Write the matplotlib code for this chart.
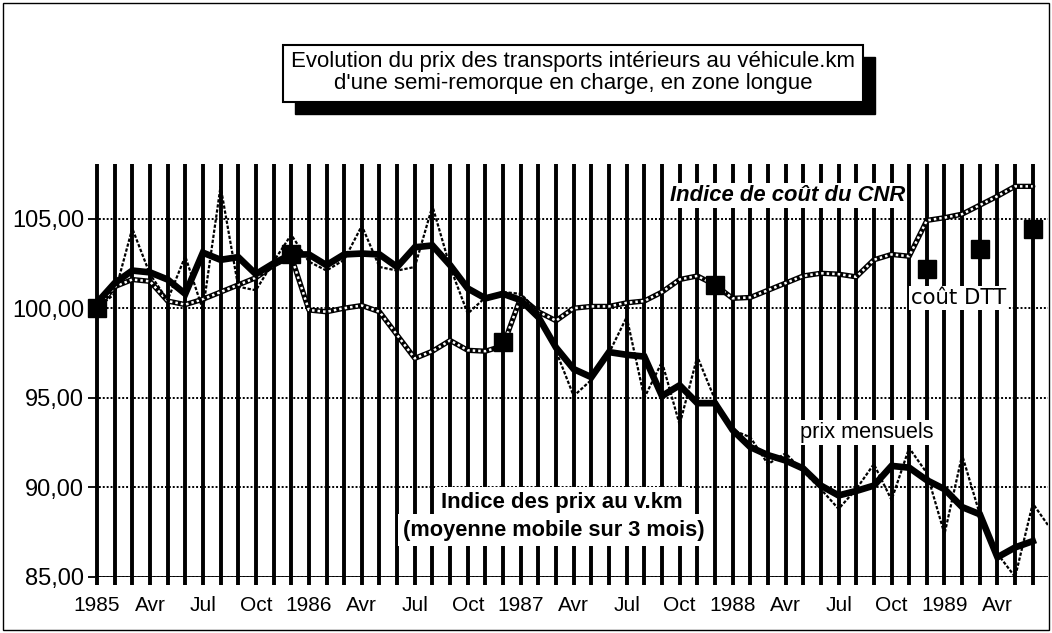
import matplotlib
matplotlib.use("Agg")
import matplotlib.pyplot as plt
from matplotlib.patches import Rectangle

# month index 0 = janvier 1985
tick_labels = ['1985', 'Avr', 'Jul', 'Oct', '1986', 'Avr', 'Jul', 'Oct',
               '1987', 'Avr', 'Jul', 'Oct', '1988', 'Avr', 'Jul', 'Oct',
               '1989', 'Avr']

# indice des prix au v.km, moyenne mobile sur 3 mois
prix_mm = [100.3, 101.4, 102.1, 102.0, 101.6, 100.8, 103.1, 102.7, 102.85, 101.9, 102.5, 103.0,
           103.0, 102.4, 103.0, 103.05, 103.0, 102.3, 103.4, 103.5, 102.4, 101.1, 100.55, 100.8,
           100.45, 99.5, 97.8, 96.6, 96.15, 97.55, 97.4, 97.3, 95.1, 95.7, 94.7, 94.7,
           93.2, 92.25, 91.8, 91.5, 91.05, 90.1, 89.55, 89.8, 90.1, 91.2, 91.1, 90.4,
           89.9, 88.9, 88.5, 86.1, 86.65, 87.0]

# prix mensuels
prix_mensuels = [100.0, 100.8, 104.45, 101.9, 100.45, 102.9, 99.9, 106.8, 101.2, 101.0, 102.6, 104.1,
                 102.6, 102.1, 102.7, 104.6, 102.3, 102.1, 102.3, 105.7, 102.3, 99.7, 100.6, 100.9,
                 100.8, 99.8, 97.6, 95.1, 96.0, 97.5, 99.5, 95.0, 97.0, 93.5, 97.3, 94.9,
                 93.2, 92.8, 91.3, 91.9, 90.9, 89.9, 88.8, 89.9, 91.3, 89.3, 92.2, 90.8,
                 87.4, 91.8, 88.5, 86.3, 85.0, 89.1, 87.7]

# indice de cout du CNR
cnr = [100.0, 101.2, 101.6, 101.5, 100.4, 100.2, 100.5, 100.9, 101.3, 101.7, 102.4, 102.9,
       99.9, 99.8, 100.0, 100.15, 99.8, 98.5, 97.2, 97.6, 98.2, 97.65, 97.6, 97.9,
       100.6, 99.8, 99.3, 100.0, 100.1, 100.1, 100.3, 100.4, 100.9, 101.6, 101.8, 101.3,
       100.55, 100.6, 101.0, 101.4, 101.8, 101.95, 101.9, 101.75, 102.7, 103.0, 102.9, 104.9,
       105.05, 105.25, 105.75, 106.25, 106.8, 106.8]

# cout DTT
dtt_mois = [0, 11, 23, 35, 47, 50, 53]
dtt = [100.0, 103.0, 98.1, 101.3, 102.2, 103.3, 104.4]

FONT = 'Liberation Sans'

fig = plt.figure(figsize=(10.52, 6.33), dpi=100)
ax = fig.add_axes([0.0905, 0.0885, 0.9055, 0.6525])

n = len(prix_mm)
ax.set_xlim(-0.1, 53.85)
ax.set_ylim(85, 108.05)

# traits verticaux a chaque mois
ax.set_xticks(range(n))
lbls = [''] * n
for i, t in enumerate(tick_labels):
    lbls[i * 3] = t
ax.set_xticklabels(lbls, fontsize=15, family=FONT)
ax.tick_params(axis='x', length=6, width=2.8, color='black', pad=8)
ax.xaxis.grid(True, color='black', linewidth=2.8, zorder=1)

ax.set_yticks([85, 90, 95, 100, 105])
ax.set_yticklabels(['85,00', '90,00', '95,00', '100,00', '105,00'], fontsize=17, family=FONT)
ax.tick_params(axis='y', length=5, width=1.3, pad=3)
ax.yaxis.grid(True, color='black', linewidth=1.4, linestyle=(0, (1, 1)), zorder=1)
ax.set_axisbelow(True)
for s in ax.spines.values():
    s.set_visible(False)
ax.axhline(85, color='black', lw=2, zorder=2)

x_m = list(range(len(prix_mensuels)))
x = list(range(n))

# CNR : chainette
ax.plot(x, cnr, color='black', lw=3.8, zorder=4, solid_capstyle='round')
ax.plot(x, cnr, color='white', lw=1.8, linestyle=(0, (1, 1.2)), zorder=4.1)

# prix mensuels
ax.plot(x_m, prix_mensuels, color='black', lw=1.6, linestyle=(0, (1.5, 0.8)), zorder=4.5)

# moyenne mobile
ax.plot(x, prix_mm, color='black', lw=4.8, zorder=5, solid_joinstyle='miter')

ax.plot(dtt_mois, dtt, 's', color='black', ms=13, zorder=6, clip_on=False)

box = dict(facecolor='white', edgecolor='none', pad=1.5)
ax.text(39.1, 106.3, 'Indice de coût du CNR', ha='center', va='center', fontsize=15.8,
        family=FONT, weight='bold', style='italic', bbox=box, zorder=3)
ax.text(48.8, 100.56, 'coût DTT', ha='center', va='center', fontsize=15.3,
        family='DejaVu Sans', bbox=box, zorder=3)
ax.text(43.6, 93.05, 'prix mensuels', ha='center', va='center', fontsize=15.7,
        family=FONT, bbox=box, zorder=3)
ax.text(26.3, 89.15, 'Indice des prix au v.km', ha='center', va='center', fontsize=15.9,
        family=FONT, weight='bold', bbox=dict(facecolor='white', edgecolor='none', pad=4), zorder=3)
ax.text(25.9, 87.6, '(moyenne mobile sur 3 mois)', ha='center', va='center', fontsize=15.7,
        family=FONT, weight='bold', bbox=dict(facecolor='white', edgecolor='none', pad=4), zorder=3)

# encadre du titre avec ombre
W, H = 1052.0, 633.0
fig.add_artist(Rectangle((295 / W, (H - 114) / H), 580 / W, 57 / H,
                         facecolor='black', edgecolor='black', transform=fig.transFigure))
fig.add_artist(Rectangle((283 / W, (H - 102) / H), 580 / W, 57 / H,
                         facecolor='white', edgecolor='black', lw=1.5, transform=fig.transFigure))
fig.text(573 / W, (H - 62) / H, 'Evolution du prix des transports intérieurs au véhicule.km',
         ha='center', va='center', fontsize=16, family=FONT)
fig.text(573 / W, (H - 84) / H, "d'une semi-remorque en charge, en zone longue",
         ha='center', va='center', fontsize=16, family=FONT)

# cadre exterieur
fig.add_artist(Rectangle((3 / W, 3 / H), 1046 / W, 627 / H, facecolor='none',
                         edgecolor='black', lw=1, transform=fig.transFigure))

fig.savefig('out.png', dpi=100)
